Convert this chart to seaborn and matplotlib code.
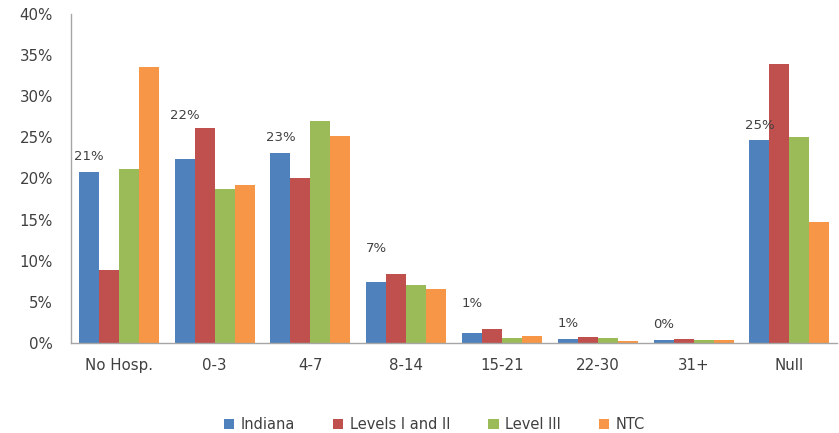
import matplotlib
matplotlib.use("Agg")
import matplotlib.pyplot as plt
import pandas as pd
import seaborn as sns
from matplotlib.ticker import PercentFormatter, MultipleLocator

# Length-of-stay buckets and the share of patients (%) in each, per group
stays = ["No Hosp.", "0-3", "4-7", "8-14", "15-21", "22-30", "31+", "Null"]
groups = ["Indiana", "Levels I and II", "Level III", "NTC"]
indiana = [20.8, 22.3, 23.1, 7.4, 1.26, 0.53, 0.37, 24.7]
levels_1_2 = [8.9, 26.1, 20.0, 8.4, 1.74, 0.73, 0.49, 33.9]
level_3 = [21.2, 18.7, 27.0, 7.0, 0.57, 0.57, 0.32, 25.0]
ntc = [33.5, 19.2, 25.2, 6.5, 0.8, 0.28, 0.3, 14.7]

palette = ["#4F81BD", "#C0504D", "#9BBB59", "#F79646"]
text_color = "#404040"
# vertical lift (pixels) of each Indiana value label above its bar
label_lift_px = [15, 44, 15, 34, 29, 15, 15, 14]

df = pd.DataFrame({
    "stay": stays * 4,
    "group": [g for g in groups for _ in stays],
    "pct": indiana + levels_1_2 + level_3 + ntc,
})

sns.set_style("white")
plt.rcParams["font.family"] = ["DejaVu Sans"]

fig = plt.figure(figsize=(8.39, 4.33), dpi=100)
ax = fig.add_axes([0.0846, 0.208, 0.9134, 0.760])

sns.barplot(data=df, x="stay", y="pct", hue="group", order=stays,
            hue_order=groups, palette=palette, saturation=1, width=0.835,
            linewidth=0, ax=ax)

ax.set_ylim(0, 40)
ax.set_xlim(-0.5, len(stays) - 0.5)
ax.yaxis.set_major_locator(MultipleLocator(5))
ax.yaxis.set_major_formatter(PercentFormatter(100, decimals=0))
ax.set_xlabel("")
ax.set_ylabel("")

for side in ("top", "right"):
    ax.spines[side].set_visible(False)
for side in ("left", "bottom"):
    ax.spines[side].set_color("#A6A6A6")
    ax.spines[side].set_linewidth(1.0)

ax.tick_params(axis="y", length=0, pad=13, labelsize=10.8, labelcolor=text_color)
ax.tick_params(axis="x", length=0, pad=11, labelsize=10.8, labelcolor=text_color)

# Indiana value labels above the Indiana bars
for bar, val, lift in zip(ax.containers[0], indiana, label_lift_px):
    ax.annotate(f"{round(val):.0f}%",
                (bar.get_x() + bar.get_width() / 2, bar.get_height()),
                xytext=(0, lift), textcoords="offset pixels",
                ha="center", va="center", fontsize=9.5, color=text_color)

handles, labels = ax.get_legend_handles_labels()
if ax.get_legend() is not None:
    ax.get_legend().remove()
fig.legend(handles, labels, loc="center", bbox_to_anchor=(0.518, 0.02),
           ncol=4, frameon=False, fontsize=10.5, labelcolor=text_color,
           handlelength=0.7, handleheight=0.7, handletextpad=0.45,
           columnspacing=2.6)

fig.savefig("out.png", dpi=100)
